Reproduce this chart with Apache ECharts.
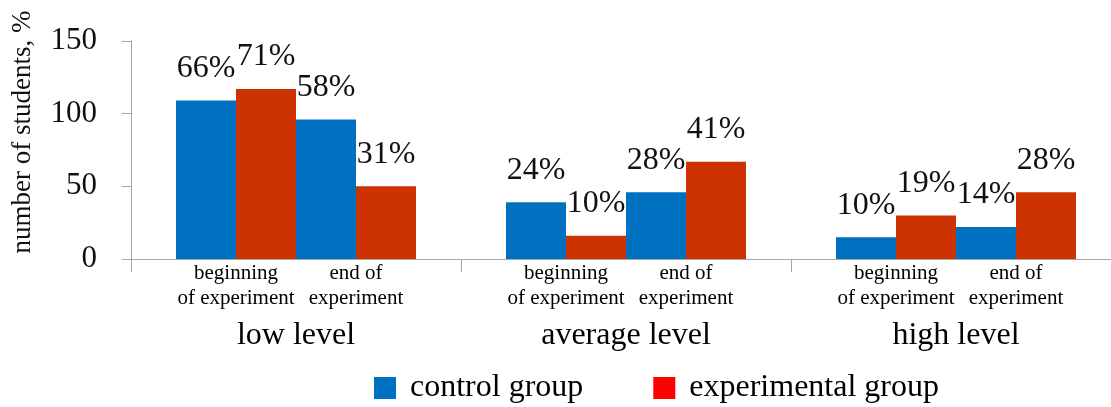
<!DOCTYPE html>
<html>
<head>
<meta charset="utf-8">
<script src="https://cdn.jsdelivr.net/npm/echarts/dist/echarts.min.js"></script>
<style>
  html, body { margin: 0; padding: 0; background: #ffffff; }
  #chart { width: 1111px; height: 407px; }
</style>
</head>
<body>
<div id="chart"></div>
<script>
// ---- data ----
const levels = ['low level', 'average level', 'high level'];
const phases = ['beginning\nof experiment', 'end of\nexperiment'];
const groupNames = ['control group', 'experimental group'];
const yTicks = [0, 50, 100, 150];

// number of students (bar heights)
const controlBegin = [109, 39, 15];
const experimentalBegin = [117, 16, 30];
const controlEnd = [96, 46, 22];
const experimentalEnd = [50, 67, 46];

// percentage labels
const pctControlBegin = [66, 24, 10];
const pctExperimentalBegin = [71, 10, 19];
const pctControlEnd = [58, 28, 14];
const pctExperimentalEnd = [31, 41, 28];

// ---- chart ----
const FONT = 'Liberation Serif';
const BLUE = '#0070C0';
const RED = '#CC3300';
const LEGEND_RED = '#FF0000';
const AXIS = '#A6A6A6';

const chart = echarts.init(document.getElementById('chart'));

const phaseLines = phases.map(p => p.split('\n'));
const subLabel = [0, 1].map(i => phaseLines.map(l => '{p|' + l[i] + '}').join('')).join('\n');

function barSeries(name, values, pcts, color) {
  return {
    name: name,
    type: 'bar',
    xAxisIndex: 0,
    barWidth: 60,
    barGap: '0%',
    data: values,
    itemStyle: { color: color },
    label: {
      show: true,
      position: 'top',
      distance: 16,
      fontFamily: FONT,
      fontSize: 32,
      color: '#111111',
      formatter: p => pcts[p.dataIndex] + '%'
    }
  };
}

chart.setOption({
  animation: false,
  grid: { left: 131, top: 41, height: 218, width: 990, containLabel: false, outerBoundsMode: 'none' },
  legend: {
    left: 369,
    top: 367,
    icon: 'rect',
    itemWidth: 22,
    itemHeight: 22,
    itemGap: 70,
    textStyle: { fontFamily: FONT, fontSize: 32, color: '#000', padding: [0, 0, 0, 9] },
    data: [
      { name: groupNames[0], itemStyle: { color: BLUE } },
      { name: groupNames[1], itemStyle: { color: LEGEND_RED } }
    ]
  },
  xAxis: [
    {
      type: 'category',
      data: levels,
      position: 'bottom',
      axisLine: { show: true, lineStyle: { color: AXIS, width: 1 } },
      axisTick: { show: true, length: 13, lineStyle: { color: AXIS } },
      axisLabel: {
        margin: 2,
        formatter: () => subLabel,
        rich: { p: { width: 120, align: 'center', fontFamily: FONT, fontSize: 21, lineHeight: 25, color: '#000' } }
      }
    },
    {
      type: 'category',
      data: levels,
      position: 'bottom',
      axisLine: { show: false },
      axisTick: { show: false },
      axisLabel: { margin: 61, fontFamily: FONT, fontSize: 32, color: '#000' }
    }
  ],
  yAxis: {
    type: 'value',
    min: yTicks[0],
    max: yTicks[yTicks.length - 1],
    interval: yTicks[1] - yTicks[0],
    splitLine: { show: false },
    axisLine: { show: true, lineStyle: { color: AXIS, width: 1 } },
    axisTick: { show: true, length: 9, lineStyle: { color: AXIS } },
    axisLabel: { margin: 34, fontFamily: FONT, fontSize: 31, color: '#111' },
    name: 'number of students, %',
    nameLocation: 'middle',
    nameGap: 95,
    nameTextStyle: { fontFamily: FONT, fontSize: 27, color: '#111', padding: [0, 0, 0, 36] }
  },
  series: [
    barSeries(groupNames[0], controlBegin, pctControlBegin, BLUE),
    barSeries(groupNames[1], experimentalBegin, pctExperimentalBegin, RED),
    barSeries(groupNames[0], controlEnd, pctControlEnd, BLUE),
    barSeries(groupNames[1], experimentalEnd, pctExperimentalEnd, RED)
  ]
});
</script>
</body>
</html>
